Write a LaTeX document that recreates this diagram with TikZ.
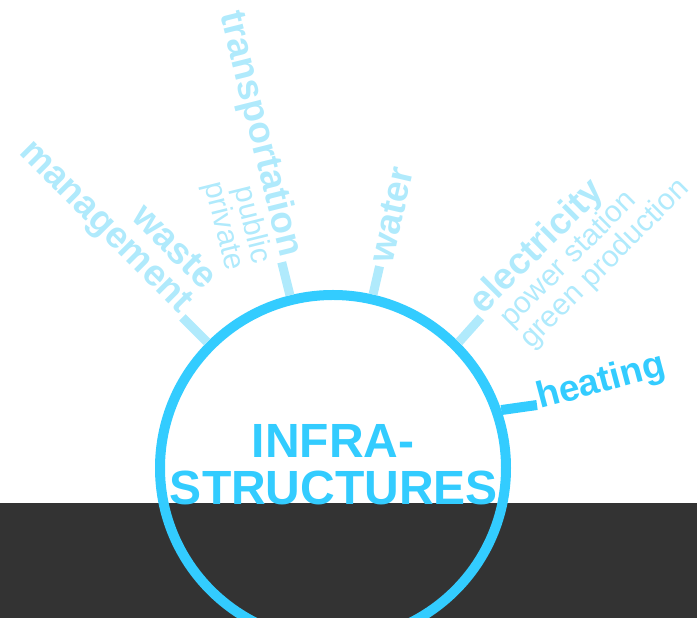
\documentclass[tikz,border=0pt]{standalone}
\usepackage{fontspec}
\setmainfont{Liberation Sans}
\definecolor{infra}{HTML}{33CCFF}
\definecolor{infralight}{HTML}{B0EAFC}
\definecolor{ground}{HTML}{333333}

\begin{document}
\begin{tikzpicture}[x=1pt, y=1pt,
    spoke/.style={draw=infralight, line width=9pt},
    lbl/.style={text=infralight, font=\bfseries\fontsize{37}{40}\selectfont, inner sep=0pt},
    sublbl/.style={text=infralight, font=\fontsize{30}{33}\selectfont, inner sep=0pt},
    title/.style={text=infra, font=\bfseries\fontsize{48}{48}\selectfont, inner sep=0pt, anchor=base}]
    \useasboundingbox (0,0) rectangle (697,618);
    \fill[ground] (0,0) rectangle (697,115);
    \node[circle, draw=infra, line width=10pt, minimum size=346pt, inner sep=0pt] (hub) at (333,150) {};
    % ends of the spokes
    \coordinate (wasteend) at ([shift={(135:213)}]hub.center);
    \coordinate (transend) at ([shift={(104:212)}]hub.center);
    \coordinate (waterend) at ([shift={(77:207)}]hub.center);
    \coordinate (elecend) at ([shift={(45.5:211)}]hub.center);
    \coordinate (heatend) at (537,213);
    \draw[spoke] (hub.135) -- (wasteend);
    \draw[spoke] (hub.104) -- (transend);
    \draw[spoke] (hub.77) -- (waterend);
    \draw[spoke] (hub.45.5) -- (elecend);
    \draw[spoke, draw=infra, line width=10pt] (hub.19) -- (heatend);
    % labels
    \node[lbl, rotate=-45, anchor=base east] (mgmt) at ([shift={(135:4)}]wasteend) {management};
    \node[lbl, rotate=-45, anchor=base east] (waste) at ([shift={(45:33)}]mgmt.base east) {waste};
    \node[lbl, rotate=-76, anchor=base east] (transport) at ([shift={(104:4)}]transend) {transportation};
    \node[sublbl, rotate=-76, anchor=base east] (public) at ([shift={(-166:28)}]transport.base east) {public};
    \node[sublbl, rotate=-76, anchor=base east] (private) at ([shift={(-166:28)}]public.base east) {private};
    \node[lbl, rotate=77, anchor=west] (water) at ([shift={(77:4)}]waterend) {water};
    \node[lbl, rotate=45, anchor=base west] (elec) at ([shift={(45.5:3)}]elecend) {electricity};
    \node[sublbl, rotate=45, anchor=base west] (station) at ([shift={(28,-13)}]elec.base west) {power station};
    \node[sublbl, rotate=45, anchor=base west] (green) at ([shift={(20,-21)}]station.base west) {green production};
    \node[lbl, text=infra, rotate=15, anchor=base west] (heating) at ([shift={(3,-4)}]heatend) {heating};
    \node[title] (infratxt) at (333,160) {INFRA-};
    \node[title] (structtxt) at (334,113) {STRUCTURES};
\end{tikzpicture}
\end{document}
